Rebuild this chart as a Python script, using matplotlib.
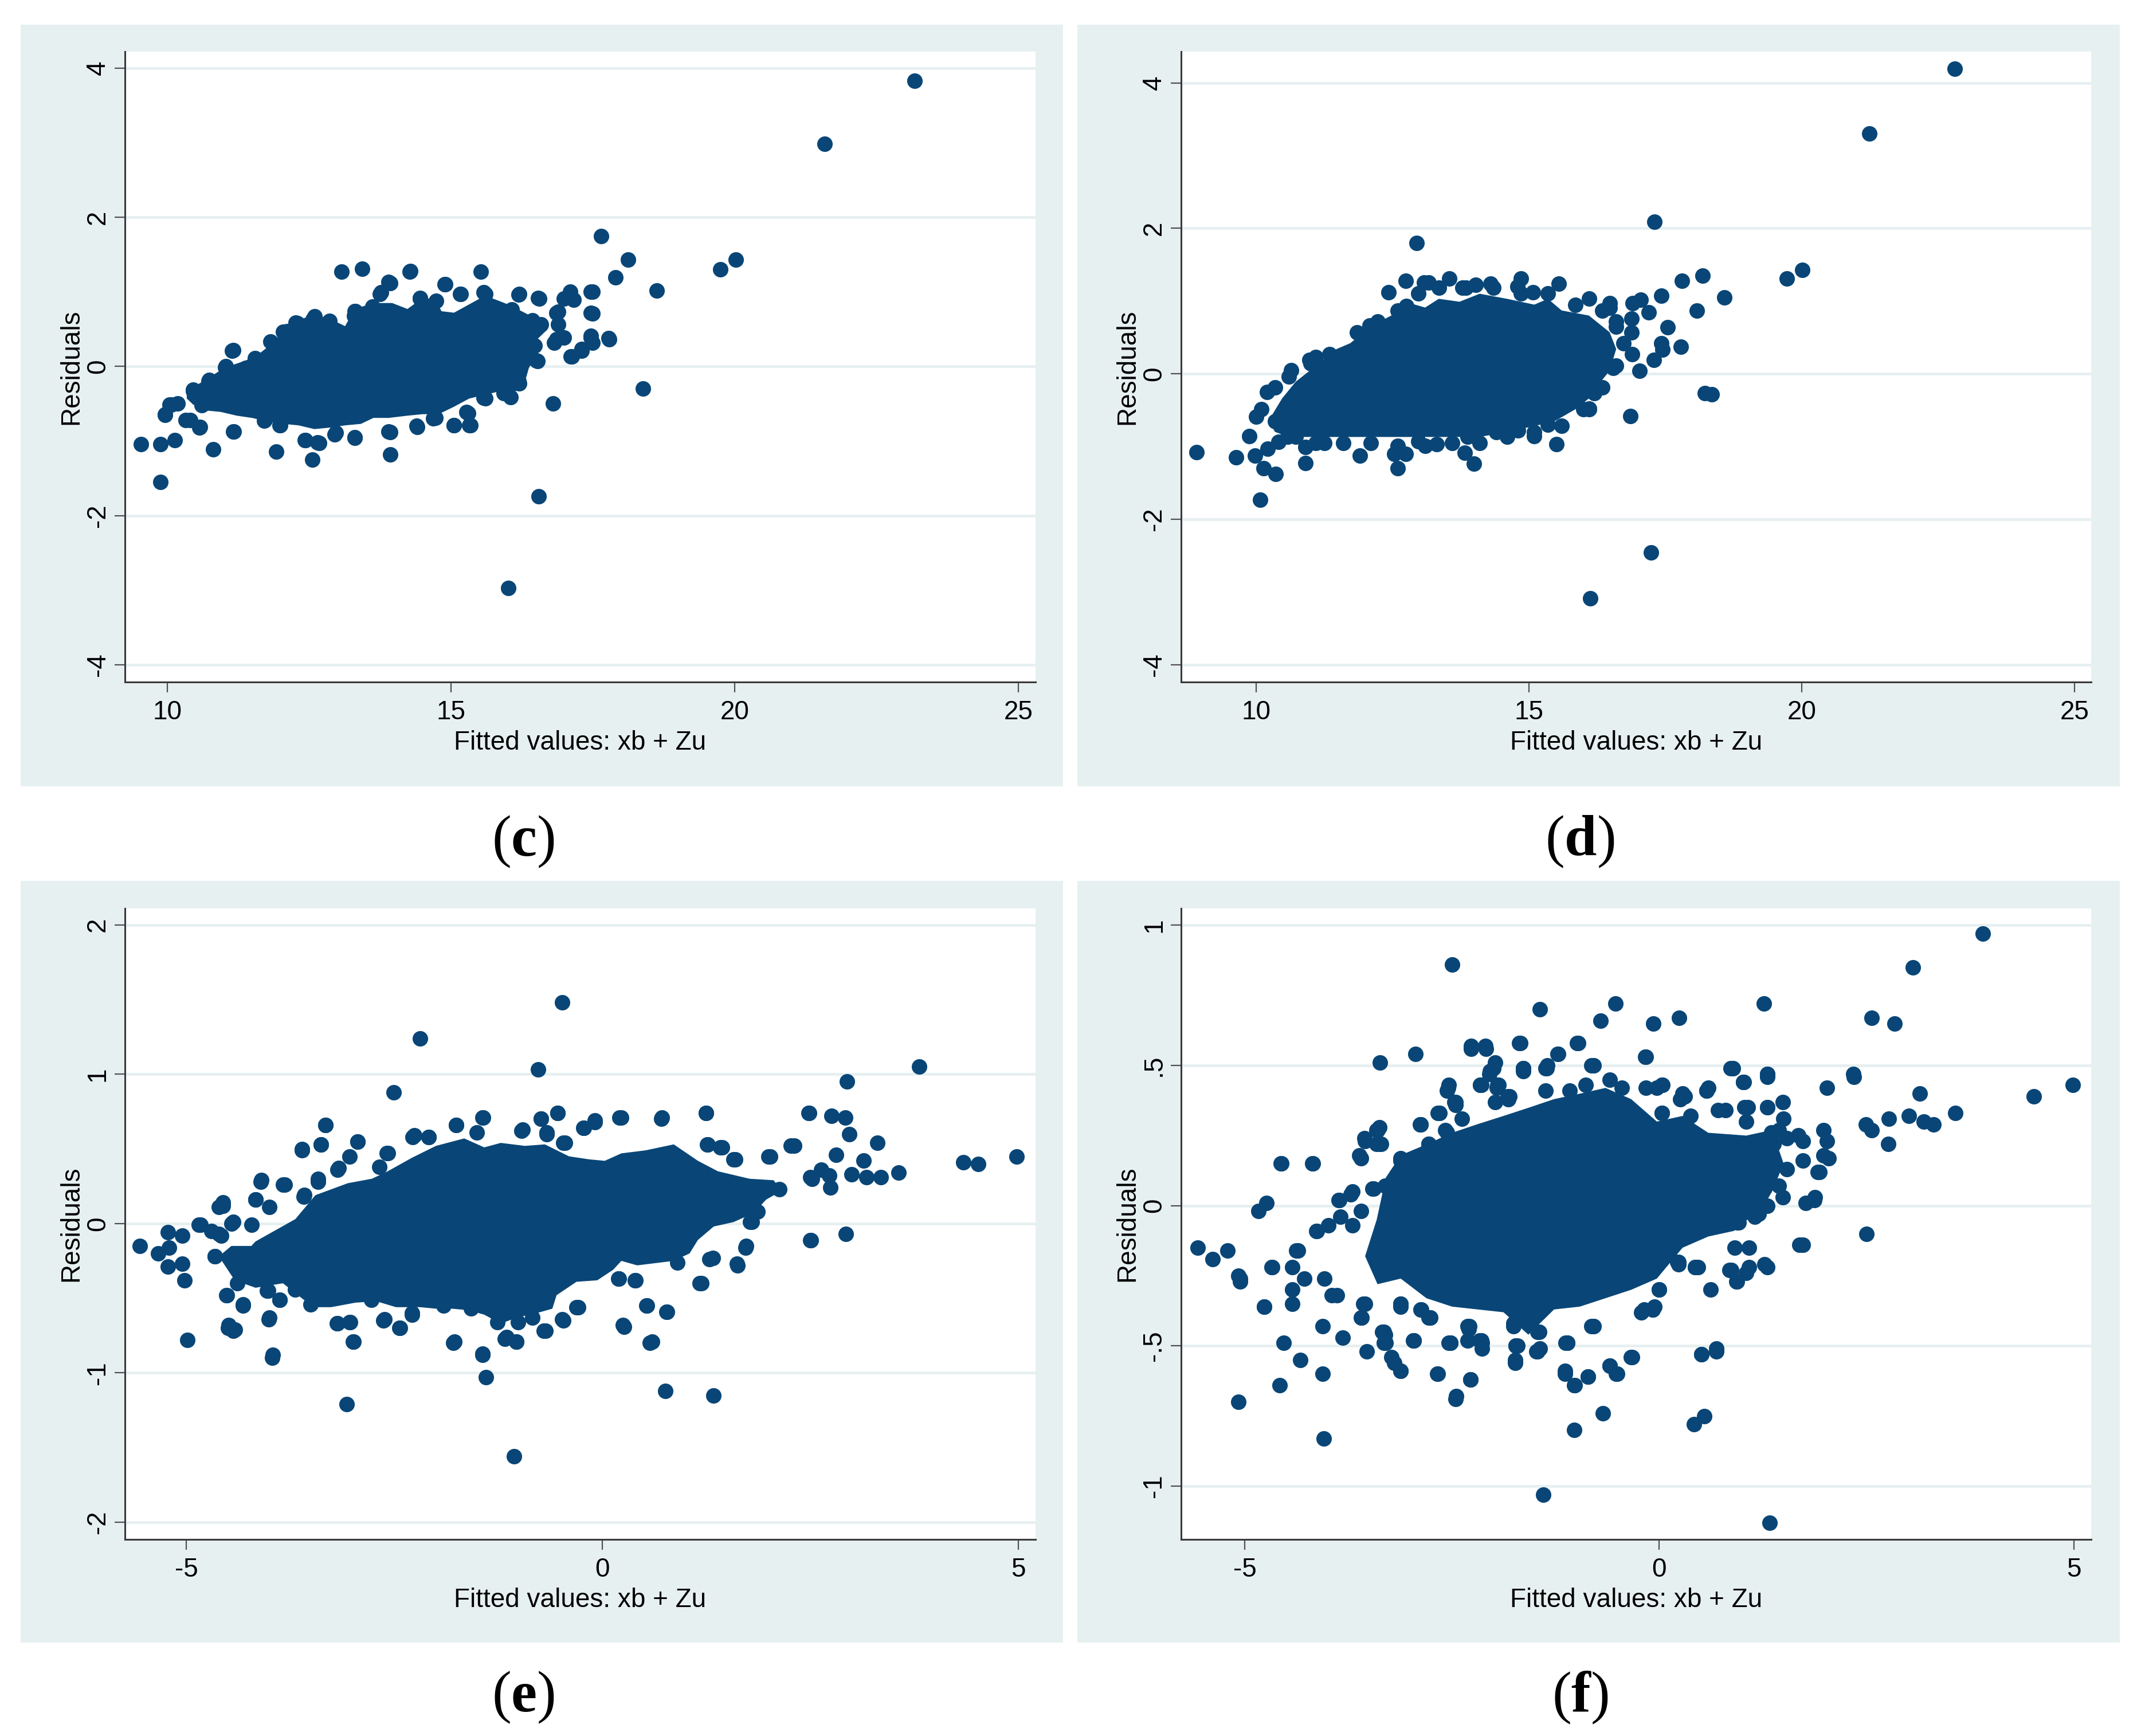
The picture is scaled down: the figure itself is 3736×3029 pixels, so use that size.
import matplotlib
matplotlib.use("Agg")
import matplotlib.pyplot as plt
from matplotlib.patches import Rectangle

# ---- panel (c) ----
c_x = [23.17, 21.58, 17.64, 18.12, 17.90, 18.62, 19.74, 20.02, 18.38, 16.80,
       16.54, 16.01, 9.53, 9.88, 10.13, 9.88, 10.81, 11.92, 12.55, 12.43,
       12.67, 12.95, 13.30, 13.93, 13.93, 14.40, 15.05, 15.34, 15.30, 14.68,
       15.57, 15.96, 16.05, 11.17, 11.99, 11.70, 10.32, 10.57, 9.96, 10.04,
       10.18, 10.45, 10.60, 10.72, 11.02, 11.14, 11.54, 11.87, 12.11, 12.29,
       12.56, 12.83, 13.07, 13.43, 13.93, 14.27, 13.77, 14.45, 14.73, 14.90,
       15.17, 15.52, 15.57, 16.19, 16.55, 17.10, 17.16, 16.99, 17.49, 17.49,
       16.89, 16.89, 16.99, 16.82, 17.46, 17.49, 17.78, 17.30, 17.11, 16.52,
       16.58, 16.43, 16.07, 16.19, 16.10, 15.71, 13.31, 13.61, 13.29]
c_y = [3.83, 2.98, 1.75, 1.43, 1.19, 1.02, 1.30, 1.43, -0.30, -0.50,
       -1.74, -2.97, -1.04, -1.04, -0.99, -1.55, -1.11, -1.14, -1.25, -0.99,
       -1.03, -0.91, -0.96, -1.18, -0.88, -0.81, -0.79, -0.79, -0.63, -0.70,
       -0.42, -0.36, -0.41, -0.87, -0.79, -0.73, -0.72, -0.81, -0.65, -0.51,
       -0.50, -0.33, -0.52, -0.20, -0.01, 0.21, 0.11, 0.30, 0.47, 0.58,
       0.63, 0.59, 1.27, 1.31, 1.12, 1.27, 0.99, 0.91, 0.88, 1.10,
       0.97, 1.27, 0.99, 0.96, 0.91, 1.00, 0.89, 0.91, 1.00, 0.71,
       0.73, 0.56, 0.39, 0.32, 0.41, 0.32, 0.38, 0.23, 0.13, 0.07,
       0.56, 0.62, 0.76, -0.20, -0.07, -0.16, 0.74, 0.80, 0.68]
# points stuck to the rim of the dense cloud
c_edge_x = [11.16, 11.03, 10.73, 10.45, 10.07, 9.96, 10.40, 10.56, 11.16, 11.71,
            11.98, 12.42, 12.64, 12.97, 13.30, 13.90, 14.39, 14.72, 15.05, 15.32,
            15.27, 15.60, 15.93, 16.20, 16.50, 16.47, 16.86, 16.86, 17.08, 17.46,
            17.46, 17.46, 17.79, 17.13, 17.30, 16.53, 16.20, 15.60, 15.16, 14.89,
            14.45, 14.28, 13.90, 13.74, 13.30, 12.86, 12.59, 12.26, 12.04, 11.82,
            11.55, 11.38]
c_edge_y = [0.22, 0.00, -0.18, -0.31, -0.51, -0.64, -0.72, -0.82, -0.87, -0.72,
            -0.79, -0.99, -1.02, -0.89, -0.95, -0.87, -0.80, -0.69, -0.79, -0.79,
            -0.61, -0.43, -0.36, -0.23, 0.08, 0.28, 0.36, 0.72, 0.95, 1.00,
            0.72, 0.39, 0.36, 0.13, 0.21, 0.92, 0.97, 0.97, 0.97, 1.10,
            0.92, 1.28, 1.13, 0.97, 0.74, 0.61, 0.67, 0.59, 0.46, 0.33,
            0.10, -0.02]
# outline of the solid dense cloud
c_core_x = [10.34, 10.67, 11.00, 11.38, 11.60, 11.88, 12.09, 12.31, 12.56, 12.86,
            13.13, 13.30, 13.63, 13.96, 14.23, 14.50, 14.72, 14.83, 15.05, 15.60,
            16.04, 16.42, 16.64, 16.69, 16.47, 16.53, 16.37, 16.31, 16.15, 15.87,
            15.60, 15.32, 15.05, 14.78, 14.50, 14.23, 13.90, 13.63, 13.41, 13.13,
            12.86, 12.59, 12.31, 12.04, 11.77, 11.49, 11.22, 10.94, 10.67, 10.45,
            10.34]
c_core_y = [-0.33, -0.18, -0.02, 0.08, 0.16, 0.33, 0.49, 0.62, 0.69, 0.64,
            0.54, 0.77, 0.85, 0.85, 0.77, 0.92, 0.90, 0.74, 0.72, 0.95,
            0.82, 0.67, 0.59, 0.49, 0.33, 0.18, -0.02, -0.18, -0.33, -0.33,
            -0.38, -0.43, -0.54, -0.64, -0.64, -0.66, -0.69, -0.69, -0.77, -0.79,
            -0.82, -0.84, -0.79, -0.77, -0.74, -0.69, -0.66, -0.61, -0.59, -0.51,
            -0.43]

# ---- panel (d) ----
d_x = [22.80, 21.24, 17.30, 12.94, 19.73, 20.01, 18.18, 17.80, 18.58, 18.08,
       17.43, 17.20, 17.05, 16.90, 17.54, 17.78, 17.43, 17.45, 17.29, 17.03,
       16.88, 16.88, 16.89, 16.10, 16.48, 15.55, 14.85, 15.08, 14.79, 14.30,
       14.03, 13.78, 13.54, 13.16, 13.08, 12.75, 12.43, 12.76, 12.08, 11.10,
       11.00, 10.65, 10.20, 10.00, 9.88, 8.91, 9.64, 9.98, 10.14, 10.36,
       10.08, 10.22, 10.41, 10.58, 10.91, 10.91, 11.25, 11.91, 12.54, 12.60,
       12.75, 12.98, 13.31, 13.83, 13.99, 13.88, 14.40, 14.80, 15.10, 15.51,
       15.35, 16.10, 16.00, 16.86, 18.23, 18.35, 17.24, 16.13, 16.20, 16.54,
       16.48, 16.60]
d_y = [4.19, 3.30, 2.09, 1.80, 1.31, 1.43, 1.35, 1.28, 1.05, 0.87,
       1.07, 0.84, 1.02, 0.97, 0.64, 0.37, 0.42, 0.33, 0.19, 0.04,
       0.57, 0.76, 0.27, 1.03, 0.97, 1.24, 1.31, 1.12, 1.20, 1.24,
       1.22, 1.18, 1.31, 1.25, 1.25, 1.28, 1.12, 0.93, 0.66, 0.23,
       0.14, 0.05, -0.25, -0.59, -0.86, -1.08, -1.15, -1.13, -1.30, -1.38,
       -1.73, -1.03, -0.94, -0.87, -1.23, -1.01, -0.95, -1.13, -1.10, -1.30,
       -1.10, -0.93, -0.97, -1.09, -1.24, -0.87, -0.80, -0.78, -0.86, -0.97,
       -0.70, -0.48, -0.49, -0.58, -0.27, -0.28, -2.46, -3.09, -0.27, 0.08,
       0.91, 0.65]
d_edge_x = [10.35, 10.60, 10.98, 11.35, 11.85, 12.23, 12.60, 12.98, 13.35, 13.85,
            14.35, 14.85, 15.35, 15.85, 16.35, 16.60, 16.73, 16.60, 16.35, 16.10,
            15.60, 15.10, 14.60, 14.10, 13.60, 13.10, 12.60, 12.10, 11.60, 11.10,
            10.73, 10.35, 10.10]
d_edge_y = [-0.19, -0.04, 0.19, 0.27, 0.57, 0.72, 0.87, 1.10, 1.18, 1.18,
            1.18, 1.10, 1.10, 0.95, 0.87, 0.72, 0.42, 0.11, -0.19, -0.49,
            -0.72, -0.80, -0.87, -0.95, -0.95, -0.99, -0.99, -0.95, -0.95, -0.95,
            -0.87, -0.65, -0.49]
d_core_x = [10.23, 10.48, 10.73, 11.10, 11.48, 11.73, 12.10, 12.48, 12.73, 13.10,
            13.35, 13.73, 14.10, 14.60, 15.10, 15.35, 15.60, 16.10, 16.48, 16.60,
            16.48, 16.23, 16.10, 15.85, 15.48, 15.10, 14.60, 14.10, 13.60, 13.10,
            12.60, 12.10, 11.60, 11.10, 10.60, 10.35]
d_core_y = [-0.65, -0.34, -0.11, 0.11, 0.34, 0.42, 0.65, 0.80, 0.99, 0.91,
            1.03, 0.99, 1.10, 1.03, 0.95, 1.03, 0.87, 0.80, 0.57, 0.34,
            0.04, -0.19, -0.34, -0.49, -0.65, -0.72, -0.80, -0.87, -0.87, -0.87,
            -0.87, -0.87, -0.87, -0.87, -0.87, -0.80]

# ---- panel (e) ----
e_x = [-0.48, -2.19, -0.77, -2.51, 3.81, 2.94, 2.48, 2.76, 2.92, 2.97,
       2.27, 3.31, 3.14, 2.81, 4.34, 4.52, 4.98, 3.56, 3.35, 3.18,
       3.00, 2.74, 2.50, 2.63, 2.73, 2.50, 2.93, 2.13, 2.00, 1.72,
       1.62, 1.78, 1.25, 1.42, 1.58, 1.26, 1.33, 1.17, 1.34, 0.76,
       0.77, 0.53, 0.57, 0.25, 0.39, 0.19, 0.71, 0.21, -0.09, -0.22,
       -0.47, -0.54, -0.67, -0.74, -0.97, -1.44, -1.76, -2.09, -2.28, -2.59,
       -2.94, -3.33, -3.38, -3.61, -3.17, -3.42, -3.58, -3.82, -4.11, -4.17,
       -4.56, -4.61, -4.85, -4.46, -5.22, -5.05, -4.70, -4.58, -5.56, -5.34,
       -5.21, -5.22, -5.05, -5.02, -4.99, -4.66, -4.52, -4.50, -4.42, -4.32,
       -4.39, -4.02, -4.01, -3.97, -3.88, -3.69, -3.51, -3.19, -3.03, -3.00,
       -3.07, -2.62, -2.44, -2.29, -1.79, -1.44, -1.40, -1.17, -1.03, -1.01,
       -0.70, -0.48, -0.31, -1.06, -1.26, -1.58, -1.91, -2.78]
e_y = [1.48, 1.24, 1.03, 0.88, 1.05, 0.95, 0.74, 0.72, 0.71, 0.60,
       0.52, 0.54, 0.42, 0.46, 0.41, 0.40, 0.45, 0.34, 0.31, 0.31,
       0.33, 0.24, 0.31, 0.36, 0.32, -0.11, -0.07, 0.23, 0.45, -0.16,
       -0.27, 0.01, 0.74, 0.51, 0.43, 0.53, -0.23, -0.40, -1.15, -1.12,
       -0.59, -0.55, -0.80, -0.68, -0.38, -0.37, 0.70, 0.71, 0.68, 0.64,
       0.54, 0.74, 0.61, 0.70, 0.62, 0.71, 0.66, 0.58, 0.58, 0.47,
       0.55, 0.66, 0.53, 0.49, 0.37, 0.28, 0.19, 0.26, 0.28, 0.16,
       0.14, 0.11, -0.01, 0.00, -0.06, -0.08, -0.05, -0.08, -0.15, -0.20,
       -0.16, -0.29, -0.27, -0.38, -0.78, -0.22, -0.48, -0.70, -0.71, -0.55,
       -0.40, -0.45, -0.64, -0.90, -0.51, -0.44, -0.54, -0.67, -0.66, -0.79,
       -1.21, -0.64, -0.70, -0.60, -0.80, -0.88, -1.03, -0.77, -0.79, -0.66,
       -0.72, -0.64, -0.56, -1.56, -0.66, -0.57, -0.55, -0.51]
e_edge_x = [-3.33, -3.61, -3.38, -2.94, -3.04, -3.18, -2.68, -2.58, -2.26, -2.09,
            -1.76, -1.43, -1.51, -0.96, -0.74, -0.54, -0.67, -0.45, -0.09, -0.23,
            0.23, 0.72, 1.25, 1.27, 1.44, 1.60, 2.02, 2.31, 2.49, 2.52,
            2.51, 1.73, 1.63, 1.19, 1.29, 0.90, 0.54, 0.78, 0.40, 0.20,
            0.26, 0.60, -0.29, -0.47, -0.68, -0.84, -1.03, -1.15, -1.44, -1.78,
            -2.29, -2.43, -2.63, -2.99, -3.04, -3.18, -4.00, -3.96, -4.44, -4.49,
            -4.32, -4.51, -4.03, -3.88, -4.66, -4.83, -4.61, -4.44, -4.22, -4.17,
            -4.56, -4.10, -3.84, -3.59, -3.42, -4.00, 1.80, 1.87]
e_edge_y = [0.66, 0.50, 0.53, 0.55, 0.45, 0.36, 0.38, 0.47, 0.59, 0.58,
            0.66, 0.71, 0.61, 0.63, 0.70, 0.74, 0.60, 0.54, 0.69, 0.64,
            0.71, 0.71, 0.74, 0.53, 0.51, 0.43, 0.45, 0.52, 0.74, 0.30,
            -0.11, -0.15, -0.28, -0.40, -0.24, -0.26, -0.55, -0.59, -0.38, -0.37,
            -0.69, -0.79, -0.56, -0.65, -0.72, -0.63, -0.79, -0.76, -0.87, -0.79,
            -0.61, -0.70, -0.65, -0.79, -0.66, -0.67, -0.63, -0.88, -0.72, -0.68,
            -0.54, -0.48, -0.45, -0.51, -0.22, -0.01, -0.07, 0.01, -0.01, 0.16,
            0.12, 0.29, 0.26, 0.18, 0.30, 0.11, 0.01, 0.08]
e_core_x = [-4.17, -3.69, -3.45, -3.06, -2.77, -2.58, -2.29, -2.00, -1.66, -1.42,
            -1.22, -0.93, -0.69, -0.40, -0.16, 0.03, 0.23, 0.52, 0.86, 1.15,
            1.39, 1.77, 2.06, 2.16, 1.97, 1.82, 1.58, 1.34, 1.15, 1.05,
            0.86, 0.42, 0.23, 0.13, -0.06, -0.31, -0.55, -0.60, -0.79, -1.03,
            -1.22, -1.42, -1.61, -1.81, -2.00, -2.19, -2.48, -2.72, -2.97, -3.26,
            -3.45, -3.59, -3.84, -4.17, -4.42, -4.61, -4.46, -4.22]
e_core_y = [-0.12, 0.03, 0.19, 0.27, 0.30, 0.35, 0.44, 0.52, 0.57, 0.51,
            0.54, 0.52, 0.53, 0.45, 0.43, 0.42, 0.47, 0.49, 0.53, 0.42,
            0.35, 0.30, 0.29, 0.22, 0.16, 0.07, 0.01, -0.02, -0.11, -0.20,
            -0.25, -0.28, -0.25, -0.31, -0.38, -0.39, -0.48, -0.57, -0.60, -0.63,
            -0.67, -0.61, -0.58, -0.57, -0.57, -0.56, -0.56, -0.52, -0.53, -0.56,
            -0.56, -0.51, -0.40, -0.43, -0.38, -0.22, -0.15, -0.15]

# ---- panel (f) ----
f_x = [3.90, -2.50, 3.06, -0.53, 1.26, -1.44, 2.56, 2.84, -0.71, -0.07,
       0.24, -2.94, -3.37, -2.27, -2.09, -1.68, -0.99, -1.22, -0.17, -0.82,
       0.88, 1.30, 2.34, 2.35, 2.02, 3.14, 4.99, 4.52, 3.57, 3.31,
       3.19, 3.01, 2.76, 2.77, 2.49, 2.56, 2.50, 1.69, 2.04, 1.91,
       1.87, 1.77, 1.50, 1.30, 1.05, 0.85, 0.93, 0.69, 0.51, 0.54,
       0.42, 1.33, -1.40, -1.03, -0.68, -1.03, -0.86, -1.14, -0.60, -0.51,
       -0.33, -1.11, -0.22, -0.08, -0.82, -1.44, -1.74, -1.73, -1.47, -2.17,
       -2.14, -2.30, -2.52, -2.28, -2.46, -2.68, -2.96, -2.77, -3.12, -3.12,
       -3.20, -3.32, -3.34, -3.53, -3.59, -3.57, -3.82, -4.06, -4.06, -4.05,
       -4.33, -4.53, -4.58, -4.77, -5.08, -5.06, -5.08, -5.21, -5.39, -5.57,
       -4.84, -4.74, -4.56, -4.18, -4.68, -4.43, -4.36, -4.13, -3.86, -3.95,
       -3.72, -3.62, -3.56, -3.40, -3.37, -3.45, -2.88, -3.10, -2.56, -2.65,
       -2.46, -2.16, -1.96, -2.00, -1.83, -1.64, -1.35, -0.16, 0.03, 0.03,
       0.31, 0.57, 1.01, 1.07, 1.49, 1.38, 0.23, 0.43, 0.62, 0.00]
f_y = [0.97, 0.86, 0.85, 0.72, 0.72, 0.70, 0.67, 0.65, 0.66, 0.65,
       0.67, 0.54, 0.51, 0.56, 0.56, 0.58, 0.58, 0.54, 0.53, 0.50,
       0.49, 0.46, 0.47, 0.46, 0.42, 0.40, 0.43, 0.39, 0.33, 0.29,
       0.30, 0.32, 0.22, 0.31, 0.29, 0.27, -0.10, -0.14, 0.17, 0.12,
       0.02, 0.01, 0.31, -0.22, -0.24, -0.23, -0.27, -0.52, -0.53, -0.75,
       -0.78, -1.13, -1.03, -0.80, -0.74, -0.64, -0.61, -0.60, -0.57, -0.60,
       -0.54, -0.49, -0.38, -0.37, -0.43, -0.51, -0.56, -0.50, -0.52, -0.48,
       -0.51, -0.44, -0.49, -0.62, -0.69, -0.60, -0.48, -0.40, -0.35, -0.59,
       -0.56, -0.49, -0.45, -0.52, -0.40, -0.35, -0.47, -0.43, -0.60, -0.83,
       -0.55, -0.49, -0.64, -0.36, -0.70, -0.27, -0.25, -0.16, -0.19, -0.15,
       -0.02, 0.01, 0.15, 0.15, -0.22, -0.30, -0.16, -0.09, 0.02, -0.32,
       0.04, 0.18, 0.24, 0.27, 0.22, 0.06, 0.29, 0.16, 0.41, 0.33,
       0.36, 0.43, 0.42, 0.49, 0.39, 0.48, 0.50, 0.42, 0.43, 0.33,
       0.39, 0.41, 0.44, 0.35, 0.37, 0.22, -0.21, -0.22, -0.30, -0.30]
f_edge_x = [-4.57, -4.19, -3.60, -3.55, -3.41, -3.41, -2.88, -2.66, -2.54, -2.46,
            -2.58, -2.78, -3.12, -3.02, -3.17, -3.31, -3.46, -3.70, -3.87, -3.60,
            -3.85, -3.70, -3.99, -4.14, -4.38, -4.43, -4.67, -4.28, -4.43, -4.77,
            -5.06, -4.04, -3.89, -3.55, -3.60, -3.12, -2.88, -2.78, -3.31, -2.97,
            -2.54, -2.29, -2.15, -1.76, -1.71, -1.47, -1.13, -0.79, -0.06, 0.23,
            0.47, 0.91, 0.96, 1.15, 1.73, 1.88, 1.93, 1.30, 1.01, 1.30,
            0.89, 0.57, 0.28, 0.04, -0.16, -0.79, -0.98, -1.23, -1.37, -1.69,
            -1.64, -2.10, -2.27, -1.98, -2.05, -2.15, -1.95, -1.81, -1.37, -1.08,
            -0.89, -0.60, -0.45, 0.38, 0.71, 1.05, 1.44,
            1.35, 1.54, 1.73, 1.98, 2.02, 1.98, 1.73, 1.54, 1.44, 1.49,
            1.30, 1.15, 1.68, 1.15, 0.91]
f_edge_y = [0.15, 0.15, 0.17, 0.23, 0.27, 0.22, 0.29, 0.33, 0.43, 0.37,
            0.27, 0.22, 0.17, 0.13, 0.11, 0.07, 0.06, 0.05, 0.02, -0.02,
            -0.04, -0.07, -0.07, -0.09, -0.16, -0.22, -0.22, -0.26, -0.35, -0.36,
            -0.26, -0.26, -0.32, -0.35, -0.40, -0.36, -0.37, -0.40, -0.46, -0.48,
            -0.49, -0.43, -0.48, -0.42, -0.50, -0.45, -0.49, -0.43, -0.36, -0.20,
            -0.22, -0.15, -0.06, -0.02, -0.14, 0.03, 0.12, 0.35, 0.44, 0.47,
            0.49, 0.41, 0.40, 0.43, 0.53, 0.50, 0.58, 0.54, 0.49, 0.58,
            0.49, 0.57, 0.57, 0.51, 0.47, 0.43, 0.43, 0.39, 0.41, 0.41,
            0.43, 0.45, 0.42, 0.32, 0.34, 0.30, 0.27,
            0.26, 0.24, 0.23, 0.27, 0.23, 0.18, 0.16, 0.13, 0.07, 0.03,
            0.00, -0.04, 0.25, 0.20, 0.16]
f_top_x = [-2.55, -2.16, -1.94, -1.64, -1.36, -0.80, -2.04, -2.47, -2.67, -2.89,
           -3.38, -3.36, -3.12, -2.78, -2.56, -1.98, -1.82, -2.38, 0.03, -0.03,
           0.25, 0.59, 0.86, 1.30, 1.02, 1.03, 1.30, 0.80]
f_top_y = [0.42, 0.43, 0.43, 0.49, 0.49, 0.50, 0.48, 0.37, 0.33, 0.29,
           0.28, 0.22, 0.16, 0.22, 0.26, 0.37, 0.38, 0.31, 0.33, 0.42,
           0.38, 0.42, 0.49, 0.47, 0.44, 0.35, 0.35, 0.34]
f_bot_x = [-3.12, -2.87, -2.76, -3.32, -3.30, -3.23, -3.12, -2.96, -2.52, -2.31,
           -2.31, -2.14, -2.67, -2.28, -2.45, -1.73, -1.74, -1.48, -1.76, -1.45,
           -1.11, -1.14, -1.02, -0.86, -0.80, -0.60, -0.52, -0.34, -0.18, -0.08,
           0.00, 0.22, 0.43, 0.51, 0.69, 0.87, 0.94, 1.08, 1.27, 1.08,
           0.94, 1.20]
f_bot_y = [-0.35, -0.37, -0.40, -0.45, -0.49, -0.54, -0.59, -0.48, -0.49, -0.43,
           -0.48, -0.49, -0.60, -0.62, -0.68, -0.50, -0.55, -0.52, -0.43, -0.45,
           -0.49, -0.59, -0.64, -0.61, -0.43, -0.57, -0.60, -0.54, -0.37, -0.37,
           -0.30, -0.20, -0.22, -0.53, -0.51, -0.23, -0.27, -0.22, -0.21, -0.15,
           -0.06, -0.03]
f_core_x = [-3.55, -3.41, -3.30, -3.12, -2.80, -2.50, -2.20, -1.88, -1.57, -1.27,
            -0.95, -0.65, -0.34, -0.03, 0.28, 0.59, 1.05, 1.36, 1.50, 1.36,
            1.20, 1.00, 0.90, 0.59, 0.28, -0.03, -0.34, -0.65, -0.96, -1.27,
            -1.58, -1.88, -2.19, -2.50, -2.81, -3.12, -3.40]
f_core_y = [-0.18, -0.05, 0.10, 0.18, 0.22, 0.26, 0.29, 0.32, 0.35, 0.38,
            0.40, 0.42, 0.38, 0.30, 0.32, 0.26, 0.25, 0.27, 0.15, 0.05,
            -0.03, -0.06, -0.09, -0.11, -0.15, -0.26, -0.30, -0.33, -0.36, -0.37,
            -0.46, -0.38, -0.37, -0.36, -0.33, -0.26, -0.28]

# ticks
xticks_top = [10, 15, 20, 25]
yticks_top = [-4, -2, 0, 2, 4]
yticklabels_top = ["-4", "-2", "0", "2", "4"]
xticks_bot = [-5, 0, 5]
yticks_e = [-2, -1, 0, 1, 2]
yticklabels_e = ["-2", "-1", "0", "1", "2"]
yticks_f = [-1, -0.5, 0, 0.5, 1]
yticklabels_f = ["-1", "-.5", "0", ".5", "1"]
panel_tags = ["c", "d", "e", "f"]

DOT = "#094677"
BG = "#e7f0f1"
GRID = "#e7f0f1"

plt.rcParams["font.family"] = "Liberation Sans"
plt.rcParams["mathtext.fontset"] = "custom"
plt.rcParams["mathtext.rm"] = "Liberation Serif"
plt.rcParams["mathtext.bf"] = "Liberation Serif:bold"

fig = plt.figure(figsize=(37.36, 30.29), dpi=100)

# light panel backgrounds (behind the axes)
for x0, y0 in [(0.00964, 0.54705), (0.50321, 0.54705), (0.00964, 0.05381), (0.50321, 0.05381)]:
    fig.patches.append(Rectangle((x0, y0), 0.487, 0.4386, transform=fig.transFigure,
                                 facecolor=BG, edgecolor="none", zorder=-5))


def panel(rect, px, py, cx, cy, xlim, ylim, xt, yt, ytl):
    ax = fig.add_axes(rect)
    ax.set_zorder(1)
    ax.set_facecolor("white")
    ax.fill(cx, cy, color=DOT, lw=0, zorder=3)
    ax.scatter(px, py, s=380, color=DOT, linewidths=0, zorder=4)
    ax.set_xlim(*xlim)
    ax.set_ylim(*ylim)
    ax.set_xticks(xt)
    ax.set_xticklabels([str(v) for v in xt])
    ax.set_yticks(yt)
    ax.set_yticklabels(ytl)
    for s in ["top", "right"]:
        ax.spines[s].set_visible(False)
    for s in ["left", "bottom"]:
        ax.spines[s].set_color("#3a3a3a")
        ax.spines[s].set_linewidth(2.2)
    ax.yaxis.grid(True, color=GRID, lw=3.6)
    ax.set_axisbelow(True)
    ax.tick_params(axis="both", direction="out", length=13, width=1.6,
                   color="#505050", labelsize=33)
    ax.tick_params(axis="x", pad=9)
    ax.tick_params(axis="y", pad=5, labelrotation=90)
    for lab in ax.get_yticklabels():
        lab.set_va("center")
    ax.set_xlabel("Fitted values: xb + Zu", fontsize=33, labelpad=7)
    ax.set_ylabel("Residuals", fontsize=33, labelpad=2)
    return ax


panel([0.05835, 0.60713, 0.42532, 0.36316], c_x + c_edge_x, c_y + c_edge_y,
      c_core_x, c_core_y, (9.25, 25.3), (-4.23, 4.22),
      xticks_top, yticks_top, yticklabels_top)
panel([0.55166, 0.60713, 0.42505, 0.36316], d_x + d_edge_x, d_y + d_edge_y,
      d_core_x, d_core_y, (8.63, 25.3), (-4.24, 4.43),
      xticks_top, yticks_top, yticklabels_top)
panel([0.05835, 0.11324, 0.42532, 0.36348], e_x + e_edge_x, e_y + e_edge_y,
      e_core_x, e_core_y, (-5.74, 5.21), (-2.115, 2.11),
      xticks_bot, yticks_e, yticklabels_e)
panel([0.55166, 0.11324, 0.42505, 0.36348],
      f_x + f_edge_x + f_top_x + f_bot_x, f_y + f_edge_y + f_top_y + f_bot_y,
      f_core_x, f_core_y, (-5.77, 5.21), (-1.19, 1.06),
      xticks_bot, yticks_f, yticklabels_f)

for tag, (tx, ty) in zip(panel_tags, [(0.2444, 0.5150), (0.7380, 0.5150),
                                      (0.2444, 0.0221), (0.7380, 0.0221)]):
    fig.text(tx, ty, r"($\mathbf{%s}$)" % tag, ha="center", va="center",
             fontsize=73, family="Liberation Serif")

fig.savefig("out.png", dpi=100)
